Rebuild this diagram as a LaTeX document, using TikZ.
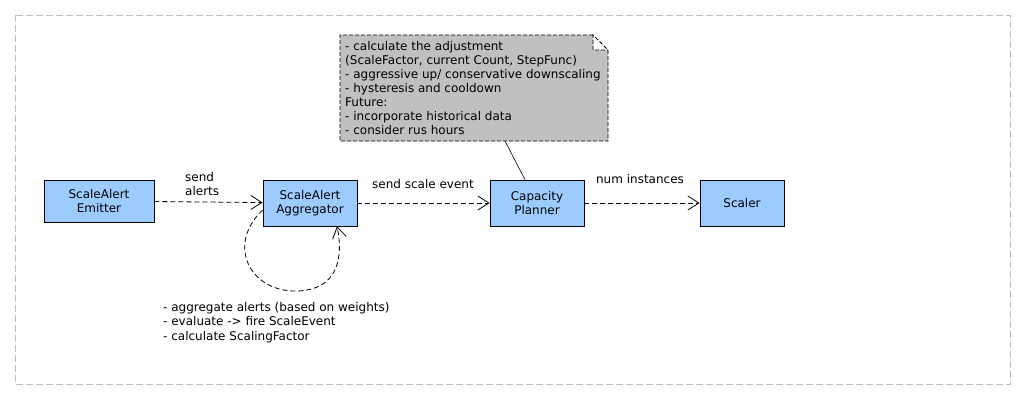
\documentclass[tikz,border=0pt]{standalone}
\usepackage{fontspec}
\setmainfont{DejaVu Sans}
\usetikzlibrary{arrows.meta}
\definecolor{boxblue}{HTML}{9CCCFF}
\definecolor{notegray}{HTML}{C0C0C0}
\tikzset{
	comp/.style={draw, fill=boxblue, align=center, line width=0.8pt,
		inner sep=0pt, minimum height=46pt},
	flow/.style={dash pattern=on 5pt off 3pt, line width=0.8pt,
		-{Straight Barb[length=11pt,width=14pt]}},
	memo/.style={align=left, inner sep=0pt}
}
\begin{document}
\begin{tikzpicture}[x=1pt, y=-1pt, font=\fontsize{12}{14}\selectfont]
\useasboundingbox (0,0) rectangle (1026,400);
\draw[black!25, dash pattern=on 7pt off 3pt] (15,15) rectangle (1010,384);
% components
\node[comp, minimum width=110pt, minimum height=42pt] (emitter) at (99,201)
	{ScaleAlert\\Emitter};
\node[comp, minimum width=94pt] (agg) at (310,203) {ScaleAlert\\Aggregator};
\node[comp, minimum width=94pt] (planner) at (537,203) {Capacity\\Planner};
\node[comp, minimum width=84pt] (scaler) at (742,203) {Scaler};
% note of the planner
\fill[notegray] (340,35) -- (593,35) -- (593,50) -- (608,50) -- (608,141)
	-- (340,141) -- cycle;
\draw[dash pattern=on 4pt off 2pt, line width=0.8pt]
	(593,35) -- (340,35) -- (340,141) -- (608,141) -- (608,50)
	-- (593,35) -- (593,50) -- (608,50);
\node[memo, anchor=north west] (plannote) at (345,41)
	{- calculate the adjustment\\(ScaleFactor, current Count, StepFunc)\\
	- aggressive up/ conservative downscaling\\- hysteresis and cooldown\\
	Future:\\- incorporate historical data\\- consider rus hours};
\coordinate (notefoot) at (505,141);
\draw[line width=0.6pt] (notefoot) -- ([xshift=-12pt]planner.north);
% flows
\draw[flow] (emitter) -- (agg);
\draw[flow] (agg) -- (planner);
\draw[flow] (planner) -- (scaler);
\draw[flow] ([yshift=-7pt]agg.west)
	.. controls (226,245) and (250,291) .. (295,291)
	.. controls (340,291) and (343,255) .. ([xshift=27pt]agg.south);
% labels
\node[memo, anchor=west] (alertlbl) at (185,184) {send\\alerts};
\node[memo] (eventlbl) at (423,184) {send scale event};
\node[memo] (numlbl) at (640,179) {num instances};
\node[memo, anchor=north west, font=\fontsize{12}{14.5}\selectfont] (aggnote)
	at (163,302) {- aggregate alerts (based on weights)\\
	- evaluate -> fire ScaleEvent\\- calculate ScalingFactor};
\end{tikzpicture}
\end{document}
